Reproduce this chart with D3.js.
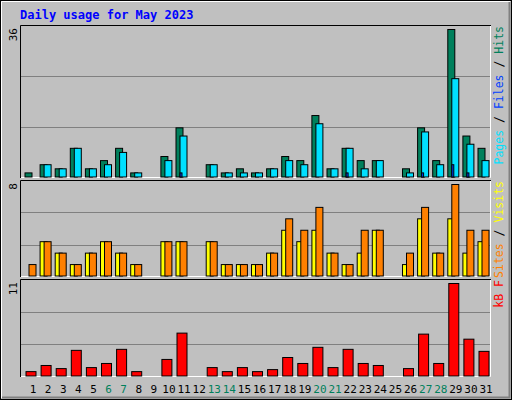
<!DOCTYPE html>
<html><head><meta charset="utf-8">
<script src="https://cdn.jsdelivr.net/npm/d3@7"></script>
<style>body{margin:0;background:#fff}svg{display:block}text{font-family:"DejaVu Sans Mono",monospace}</style>
</head><body><div id="chart"></div>
<script>
const days = d3.range(1, 32);
const weekend = [6, 7, 13, 14, 20, 21, 27, 28];
const hits  = [1,3,2,7,2,4,7,1,0,5,12,0,3,1,2,1,2,5,4,15,2,7,4,4,0,2,12,4,36,10,7];
const files = [0,3,2,7,2,3,6,1,0,4,10,0,3,1,1,1,2,4,3,13,2,7,2,4,0,1,11,3,24,8,4];
const pages = [0,0,0,0,0,0,0,0,0,0,1,0,0,0,0,0,0,0,0,0,0,1,0,0,0,0,1,0,3,1,0];
const visits = [1,3,2,1,2,3,2,1,0,3,3,0,3,1,1,1,2,5,4,6,2,1,4,4,0,2,6,2,8,4,4];
const sites  = [0,3,2,1,2,3,2,1,0,3,3,0,3,1,1,1,2,4,3,4,2,1,2,4,0,1,5,2,5,2,3];
const kbytes = [0.52,1.25,0.88,3.05,1.0,1.49,3.17,0.52,0,1.97,5.1,0,1.0,0.52,1.0,0.52,0.76,2.2,1.49,3.41,1.0,3.17,1.49,1.25,0,0.88,4.98,1.49,11,4.38,2.93];

const W = 512, H = 400;
const svg = d3.select("#chart").append("svg").attr("width", W).attr("height", H);

// frame with bevel
svg.append("rect").attr("width", W).attr("height", H).attr("fill", "#c0c0c0");
svg.append("rect").attr("x", 0.5).attr("y", 0.5).attr("width", W - 1).attr("height", H - 1).attr("fill", "none").attr("stroke", "#000");
svg.append("path").attr("d", `M1.5,${H-2} V1.5 H${W-2}`).attr("fill", "none").attr("stroke", "#fff");
svg.append("path").attr("d", `M2,${H-2.5} H${W-2.5} V2`).attr("fill", "none").attr("stroke", "#808080").attr("stroke-width", 2);

svg.append("text").attr("x", 20).attr("y", 19).attr("fill", "#0000ff")
  .attr("font-size", 12).attr("font-weight", "bold").text("Daily usage for May 2023");

const x = d3.scaleBand().domain(days).range([23.5, 23.5 + 31 * 15.1]);
const left = 20, right = 491;

const panels = [
  { top: 25, bottom: 178, max: 36, label: "36" },
  { top: 180, bottom: 277, max: 8, label: "8" },
  { top: 279, bottom: 377, max: 11, label: "11" }
];

panels.forEach(p => {
  svg.append("rect").attr("x", left).attr("y", p.top).attr("width", right - left).attr("height", p.bottom - p.top).attr("fill", "#c0c0c0");
  svg.append("path").attr("d", `M${left+0.5},${p.bottom} V${p.top+0.5} H${right}`).attr("fill", "none").attr("stroke", "#000");
  svg.append("path").attr("d", `M${left+1},${p.bottom-0.5} H${right-0.5} V${p.top+1}`).attr("fill", "none").attr("stroke", "#fff");
  p.y = d3.scaleLinear().domain([0, p.max]).range([p.bottom - 1.5, p.top + 4]);
  [1, 2].forEach(i => {
    const gy = Math.round(p.bottom - (p.bottom - p.top) * i / 3) + 0.5;
    svg.append("line").attr("x1", left + 1).attr("x2", right - 1).attr("y1", gy).attr("y2", gy).attr("stroke", "#808080");
  });
  svg.append("text").attr("transform", `translate(17,${p.top + 3}) rotate(-90)`)
    .attr("text-anchor", "end").attr("font-size", 11).text(p.label);
});

function bars(vals, panel, dx, w, color) {
  svg.append("g").selectAll("rect").data(days.filter((d, i) => vals[i] > 0)).join("rect")
    .attr("x", d => x(d) + dx + 0.5)
    .attr("y", d => panel.y(vals[d - 1]) + 0.5)
    .attr("width", w)
    .attr("height", d => panel.y(0) - panel.y(vals[d - 1]))
    .attr("fill", color).attr("stroke", "#000");
}
bars(hits, panels[0], 1, 7, "#00805c");
bars(files, panels[0], 5, 7, "#00e0ff");
bars(pages, panels[0], 5, 2, "#0040ff");
bars(sites, panels[1], 1, 7, "#ffff00");
bars(visits, panels[1], 5, 7, "#ff8000");
bars(kbytes, panels[2], 2, 10, "#ff0000");

// day labels
svg.append("g").selectAll("text").data(days).join("text")
  .attr("x", d => x(d) + x.bandwidth() / 2 + 2)
  .attr("y", 393).attr("text-anchor", "middle").attr("font-size", 11)
  .attr("fill", d => weekend.includes(d) ? "#00805c" : "#000").text(d => d);

// right legends
function legend(y0, parts) {
  const t = svg.append("text").attr("transform", `translate(503,${y0}) rotate(-90)`)
    .attr("text-anchor", "end").attr("font-size", 11.5).attr("xml:space", "preserve");
  parts.forEach(([s, c]) => t.append("tspan").attr("fill", c).text(s));
}
legend(26, [["Pages", "#00e0ff"], [" / ", "#000"], ["Files", "#0040ff"], [" / ", "#000"], ["Hits", "#00805c"]]);
legend(181, [["Sites", "#ff8000"], [" / ", "#000"], ["Visits", "#ffff00"]]);
legend(280, [["kB F", "#ff0000"]]);
</script></body></html>
